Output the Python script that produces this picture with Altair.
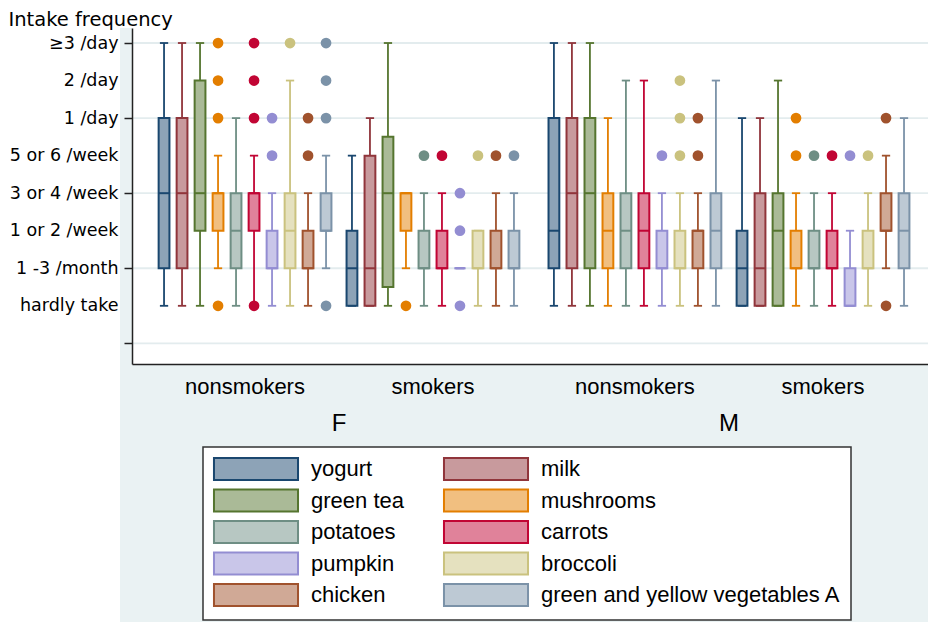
import json
import altair as alt
import pandas as pd

# ---------------- data ----------------
items = ["yogurt", "milk", "green tea", "mushrooms", "potatoes", "carrots",
         "pumpkin", "broccoli", "chicken", "green and yellow vegetables A"]
sexes = ["F", "F", "M", "M"]
smoking = ["nonsmokers", "smokers", "nonsmokers", "smokers"]
freq_labels = ["hardly take", "1 -3 /month", "1 or 2 /week", "3 or 4 /week",
               "5 or 6 /week", "1 /day", "2 /day", "\u22653 /day"]

# levels: 0 = hardly take ... 7 = >=3/day ; rows = F-non, F-smk, M-non, M-smk
lo = [
    [0, 0, 0, 1, 0, 0, 0, 0, 0, 1],
    [0, 0, 0, 1, 0, 0, 1, 0, 0, 0],
    [0, 0, 0, 0, 0, 0, 0, 0, 0, 0],
    [0, 0, 0, 0, 0, 0, 0, 0, 1, 0],
]
q1 = [
    [1, 1, 2, 2, 1, 2, 1, 1, 1, 2],
    [0, 0, 0.5, 2, 1, 1, 1, 1, 1, 1],
    [1, 1, 1, 1, 1, 1, 1, 1, 1, 1],
    [0, 0, 0, 1, 1, 1, 0, 1, 2, 1],
]
med = [
    [3, 3, 3, 3, 2, 3, 1, 2, 1, 2],
    [1, 1, 3, 3, 1, 1, 1, 1, 1, 1],
    [2, 3, 3, 2, 2, 2, 1, 1, 2, 2],
    [1, 1, 2, 1, 1, 1, 0, 1, 2, 2],
]
q3 = [
    [5, 5, 6, 3, 3, 3, 2, 3, 2, 3],
    [2, 4, 4.5, 3, 2, 2, 1, 2, 2, 2],
    [5, 5, 5, 3, 3, 3, 2, 2, 2, 3],
    [2, 3, 3, 2, 2, 2, 1, 2, 3, 3],
]
hi = [
    [7, 7, 7, 4, 5, 4, 3, 6, 3, 4],
    [4, 5, 7, 3, 3, 3, 1, 2, 3, 3],
    [7, 7, 7, 5, 6, 6, 3, 3, 3, 6],
    [5, 5, 6, 3, 3, 3, 2, 3, 4, 5],
]
outliers = [
    {"mushrooms": [7, 6, 5, 0], "carrots": [7, 6, 5, 0], "pumpkin": [5, 4],
     "broccoli": [7], "chicken": [5, 4], "green and yellow vegetables A": [7, 6, 5, 0]},
    {"mushrooms": [0], "potatoes": [4], "carrots": [4], "pumpkin": [3, 2, 0],
     "broccoli": [4], "chicken": [4], "green and yellow vegetables A": [4]},
    {"pumpkin": [4], "broccoli": [6, 5, 4], "chicken": [5, 4]},
    {"mushrooms": [5, 4], "potatoes": [4], "carrots": [4], "pumpkin": [4],
     "broccoli": [4], "chicken": [5, 0]},
]

# ---------------- styles ----------------
strokes = ["#1a476f", "#90353b", "#55752f", "#e37e00", "#6e8e84",
           "#c10534", "#938dd2", "#cac27e", "#a0522d", "#7b92a8"]
fills = ["#8da3b7", "#c89a9d", "#aaba97", "#f1bf80", "#b7c7c2",
         "#e0829a", "#c9c6e9", "#e5e1bf", "#d0a996", "#bdc9d4"]
group_start = [1.78, 12.22, 23.44, 33.89]   # slot position of first box in each group
PLOT_W, PLOT_H = 796, 336
X_MAX = PLOT_W / 18.0
BOX_HALF, CAP_HALF = 0.3, 0.23
BG = "#eaf2f3"

rows, orows = [], []
for g in range(4):
    for i, it in enumerate(items):
        p = group_start[g] + i
        rows.append(dict(item=it, pos=p, left=p - BOX_HALF, right=p + BOX_HALF,
                         capl=p - CAP_HALF, capr=p + CAP_HALF,
                         lo=lo[g][i], q1=q1[g][i], med=med[g][i], q3=q3[g][i], hi=hi[g][i]))
        for v in outliers[g].get(it, []):
            orows.append(dict(item=it, dotcolor=strokes[i], pos=p, value=v))
box_df = pd.DataFrame(rows)
out_df = pd.DataFrame(orows)
grp_df = pd.DataFrame({"label": smoking, "pos": [s + 4.5 for s in group_start]})
sex_df = pd.DataFrame({"label": ["F", "M"],
                       "pos": [(group_start[0] + group_start[1]) / 2 + 4.5,
                               (group_start[2] + group_start[3]) / 2 + 4.5]})
one = pd.DataFrame({"k": [0]})
grid_df = pd.DataFrame({"level": [-1, 1, 3, 5, 7]})

# ---------------- scales / axes ----------------
xscale = alt.Scale(domain=[0, X_MAX], nice=False, zero=False)
yscale = alt.Scale(domain=[-1.55, 7.4], nice=False, zero=False)
xaxis = alt.Axis(labels=False, ticks=False, grid=False, title="", domainColor="#222",
                 domainWidth=1.5, zindex=1)
label_expr = "datum.value >= 0 ? " + json.dumps(freq_labels, ensure_ascii=False) + "[datum.value] : ''"
yaxis = alt.Axis(values=list(range(-1, 8)), labelExpr=label_expr, title="Intake frequency",
                 titleAngle=0, titleAlign="left", titleBaseline="alphabetic",
                 titleX=-124, titleY=-3, titleFont="DejaVu Sans", titleFontSize=19.5,
                 titleFontWeight="normal", titleColor="black",
                 labelFont="DejaVu Sans", labelFontSize=17.5, labelColor="black",
                 labelPadding=6, labelFlush=False, labelOverlap=False,
                 tickSize=8, tickWidth=1.5, tickColor="#222",
                 tickOpacity={"condition": {"test": "abs(datum.value) % 2 == 1", "value": 1}, "value": 0},
                 domainColor="#222", domainWidth=1.5, grid=False, zindex=1)


def X(f):
    return alt.X(f"{f}:Q", scale=xscale, axis=xaxis)


def Y(f):
    return alt.Y(f"{f}:Q", scale=yscale, axis=yaxis)


stroke_scale = alt.Scale(domain=items, range=strokes)
fill_scale = alt.Scale(domain=items, range=fills)
# legend swatch: 84 x 22 px rectangle (path drawn at scale sqrt(symbolSize)/2 = 11)
leg = alt.Legend(title=None, orient="none", legendX=71, legendY=419, columns=2,
                 direction="horizontal",
                 symbolType="M-3.82,-1H3.82V1H-3.82Z", symbolSize=484, symbolStrokeWidth=2,
                 symbolOffset=31, labelOffset=43,
                 labelFont="Liberation Sans", labelFontSize=22, labelColor="black",
                 rowPadding=1.5, columnPadding=35, padding=10,
                 fillColor="white", strokeColor="#333", labelLimit=400)
stroke_enc = alt.Stroke("item:N", scale=stroke_scale, legend=leg)

# ---------------- layers ----------------
bg = alt.Chart(one).mark_rect(color=BG).encode(
    x=alt.value(-12), x2=alt.value(PLOT_W), y=alt.value(0), y2=alt.value(594))
plot_bg = alt.Chart(one).mark_rect(color="white").encode(
    x=alt.value(0), x2=alt.value(PLOT_W), y=alt.value(0), y2=alt.value(PLOT_H))
grid = alt.Chart(grid_df).mark_rule(color="#e3ecee", strokeWidth=1.8).encode(
    y=Y("level"), x=alt.value(0), x2=alt.value(PLOT_W))

base = alt.Chart(box_df)
whisk_lo = base.mark_rule(strokeWidth=1.8).encode(x=X("pos"), y=Y("lo"), y2="q1:Q", stroke=stroke_enc)
whisk_hi = base.mark_rule(strokeWidth=1.8).encode(x=X("pos"), y=Y("q3"), y2="hi:Q", stroke=stroke_enc)
cap_lo = base.mark_rule(strokeWidth=1.8).encode(x=X("capl"), x2="capr:Q", y=Y("lo"), stroke=stroke_enc)
cap_hi = base.mark_rule(strokeWidth=1.8).encode(x=X("capl"), x2="capr:Q", y=Y("hi"), stroke=stroke_enc)
boxes = base.mark_rect(strokeWidth=2).encode(
    x=X("left"), x2="right:Q", y=Y("q1"), y2="q3:Q",
    fill=alt.Fill("item:N", scale=fill_scale, legend=leg),
    stroke=stroke_enc)
medians = base.mark_rule(strokeWidth=2).encode(x=X("left"), x2="right:Q", y=Y("med"), stroke=stroke_enc)
dots = alt.Chart(out_df).mark_circle(size=115, opacity=1).encode(
    x=X("pos"), y=Y("value"), color=alt.Color("dotcolor:N", scale=None))

grp_text = alt.Chart(grp_df).mark_text(font="Liberation Sans", fontSize=22, color="black",
                                       baseline="middle", align="center").encode(
    x=X("pos"), y=alt.value(359), text="label:N")
sex_text = alt.Chart(sex_df).mark_text(font="Liberation Sans", fontSize=24, color="black",
                                       baseline="middle", align="center").encode(
    x=X("pos"), y=alt.value(396), text="label:N")

chart = alt.layer(bg, plot_bg, grid, whisk_lo, whisk_hi, cap_lo, cap_hi, boxes, medians, dots,
                  grp_text, sex_text).properties(
    width=PLOT_W, height=PLOT_H,
    autosize=alt.AutoSizeParams(type="none"),
    padding={"left": 124, "top": 20, "right": 0, "bottom": 258},
    background="white",
).configure_view(stroke="transparent").configure_legend(strokeWidth=1.5)

chart.save("out.html", embed_options={"renderer": "svg", "actions": False})
